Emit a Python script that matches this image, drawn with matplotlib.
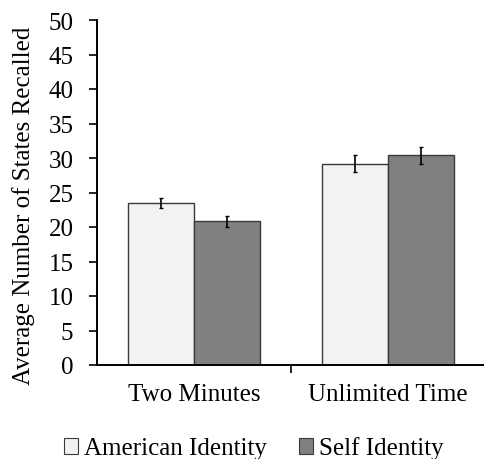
import matplotlib
matplotlib.use("Agg")
import matplotlib.pyplot as plt
import numpy as np

categories = ["Two Minutes", "Unlimited Time"]
series_names = ["American Identity", "Self Identity"]
american = [23.5, 29.2]
self_id = [20.8, 30.4]
american_err = [0.7, 1.2]
self_err = [0.75, 1.2]
yticks = [0, 5, 10, 15, 20, 25, 30, 35, 40, 45, 50]

plt.rcParams['font.family'] = ['Liberation Serif', 'DejaVu Serif']

fig = plt.figure(figsize=(4.85, 4.6), dpi=100)
ax = fig.add_axes([97/485, 1 - 366/460, 388/485, 345/460])

x = np.arange(len(categories))
w = 0.34
ekw = dict(ecolor="black", elinewidth=1.2, capsize=1.5, capthick=1.0)
ax.bar(x - w/2, american, w, color="#f2f2f2", edgecolor="#3a3a3a", linewidth=1.0,
       label=series_names[0], yerr=american_err, error_kw=ekw)
ax.bar(x + w/2, self_id, w, color="#808080", edgecolor="#3a3a3a", linewidth=1.0,
       label=series_names[1], yerr=self_err, error_kw=ekw)

ax.set_xlim(-0.5, 1.5)
ax.set_ylim(0, 50)
ax.set_yticks(yticks)
ax.tick_params(axis='y', direction='out', length=6, width=1.2, labelsize=18, pad=11)
ax.set_xticks([0.5])
ax.set_xticklabels([""])
ax.tick_params(axis='x', direction='out', length=6, width=1.2)
for xi, c in zip(x, categories):
    ax.text(xi, -2.6, c, ha='center', va='top', fontsize=18)

for s in ["top", "right"]:
    ax.spines[s].set_visible(False)
for s in ["left", "bottom"]:
    ax.spines[s].set_linewidth(1.4)
    ax.spines[s].set_color("black")

ax.set_ylabel("Average Number of States Recalled", fontsize=18)
ax.yaxis.set_label_coords(-62/388, (366 - 206) / 345)

leg = fig.legend(loc="center", bbox_to_anchor=(254/485, 1 - 449/460), ncol=2,
                 frameon=False, fontsize=18, handlelength=0.55, handleheight=0.6,
                 handletextpad=0.25, columnspacing=1.3)
for h in leg.legend_handles:
    h.set_linewidth(0.8)

fig.savefig("out.png", dpi=100, facecolor="white")
